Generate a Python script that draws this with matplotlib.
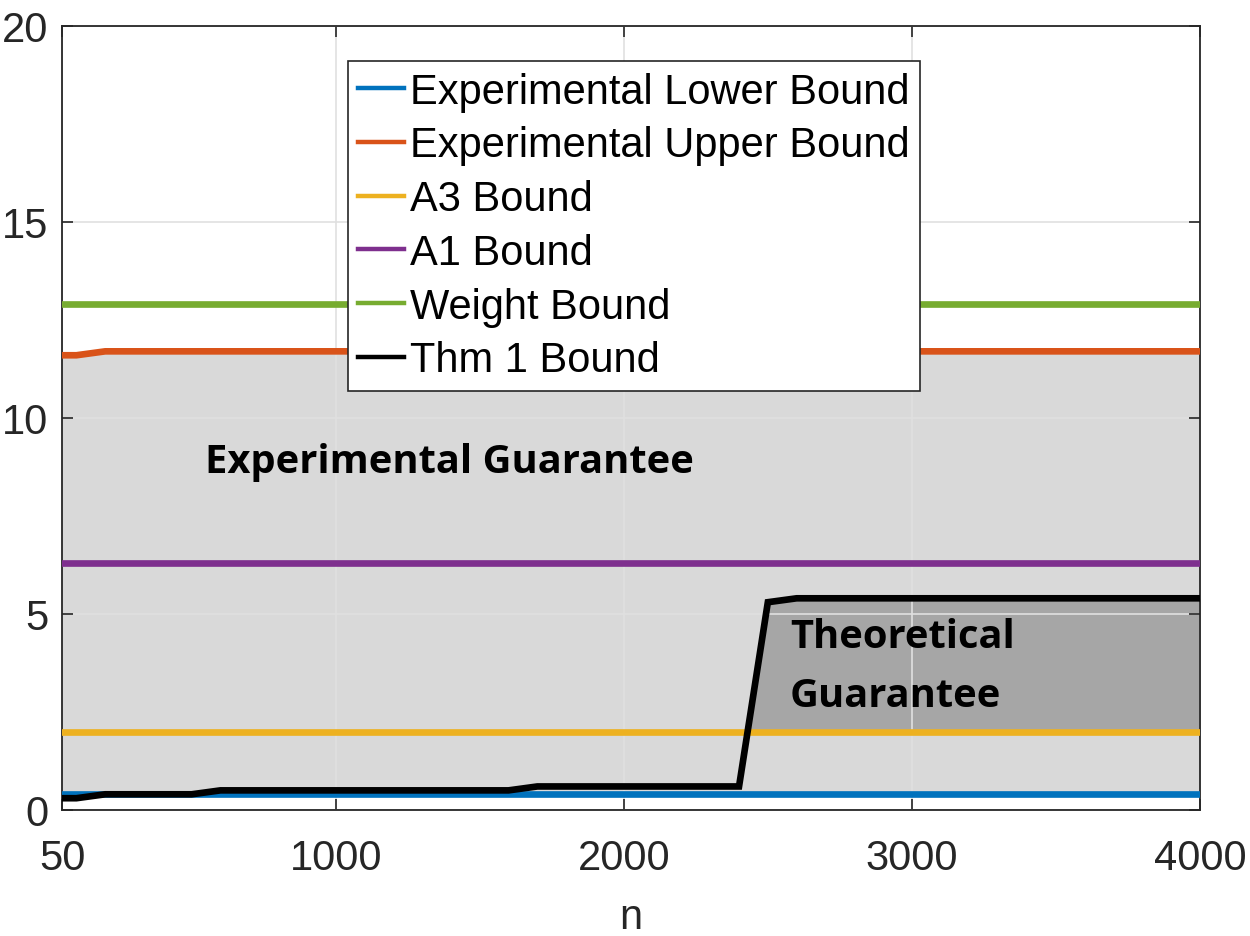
import matplotlib
matplotlib.use("Agg")
import matplotlib.pyplot as plt

# tamanhos de problema
n = [50, 100, 200, 300, 400, 500, 600, 700, 800, 900, 1000,
     1100, 1200, 1300, 1400, 1500, 1600, 1700, 1800, 1900, 2000,
     2100, 2200, 2300, 2400, 2500, 2600, 2700, 2800, 2900, 3000,
     3100, 3200, 3300, 3400, 3500, 3600, 3700, 3800, 3900, 4000]

lower_bound = [0.4] * 41
upper_bound = [11.6, 11.6] + [11.7] * 39
a3_bound = [2.0] * 41
a1_bound = [6.3] * 41
weight_bound = [12.9] * 41
thm1_bound = ([0.3] * 2 + [0.4] * 4 + [0.5] * 11 + [0.6] * 8
              + [5.3] + [5.4] * 15)

labels = ["Experimental Lower Bound", "Experimental Upper Bound",
          "A3 Bound", "A1 Bound", "Weight Bound", "Thm 1 Bound"]
colors = ["#0072BD", "#D95319", "#EDB120", "#7E2F8E", "#77AC30", "black"]

plt.rcParams["font.family"] = ["Liberation Sans", "DejaVu Sans"]

fig = plt.figure(figsize=(12.5, 9.37), dpi=100)
ax = fig.add_axes([0.0496, 0.1345, 0.9104, 0.8367])

ax.fill_between(n, lower_bound, upper_bound, color="#d9d9d9", lw=0, zorder=1)
thm_above = [t > a for t, a in zip(thm1_bound, a3_bound)]
ax.fill_between(n, a3_bound, thm1_bound, where=thm_above, interpolate=True,
                color="#a6a6a6", lw=0, zorder=1.1)

series = [lower_bound, upper_bound, a3_bound, a1_bound, weight_bound, thm1_bound]
for i, (y, lab, c) in enumerate(zip(series, labels, colors)):
    ax.plot(n, y, color=c, lw=4.8, label=lab, zorder=3 + i,
            solid_joinstyle="miter")

ax.text(546, 8.88, "Experimental Guarantee", family="Open Sans",
        fontweight="bold", fontsize=28.7, va="center", ha="left", zorder=20)
ax.text(2577, 3.67, "Theoretical\nGuarantee", family="Open Sans",
        fontweight="bold", fontsize=28.7, va="center", ha="left",
        linespacing=1.65, zorder=20)

ax.set_xlim(50, 4000)
ax.set_ylim(0, 20)
ax.set_xticks([50, 1000, 2000, 3000, 4000])
ax.set_yticks([0, 5, 10, 15, 20])
ax.set_axisbelow("line")
ax.grid(True, color="#e0e0e0", lw=1.2)
ax.tick_params(direction="in", length=8, width=1.2, labelsize=30,
               colors="#262626", top=True, right=True, pad=10)
ax.tick_params(axis="x", pad=20)
for s in ax.spines.values():
    s.set_color("#262626")
    s.set_linewidth(1.3)
ax.set_xlabel("n", fontsize=30, color="#262626", labelpad=14)

leg = ax.legend(loc="upper left", bbox_to_anchor=(0.2512, 0.955),
                fontsize=30, frameon=True, fancybox=False, handlelength=1.1,
                handletextpad=0.15, borderpad=0.25, labelspacing=0.33,
                borderaxespad=0)
leg.get_frame().set_edgecolor("#262626")
leg.get_frame().set_linewidth(1.2)
leg.get_frame().set_alpha(1)
leg.set_zorder(30)
for h in leg.get_lines():
    h.set_linewidth(3.2)

fig.savefig("out.png", dpi=100)
